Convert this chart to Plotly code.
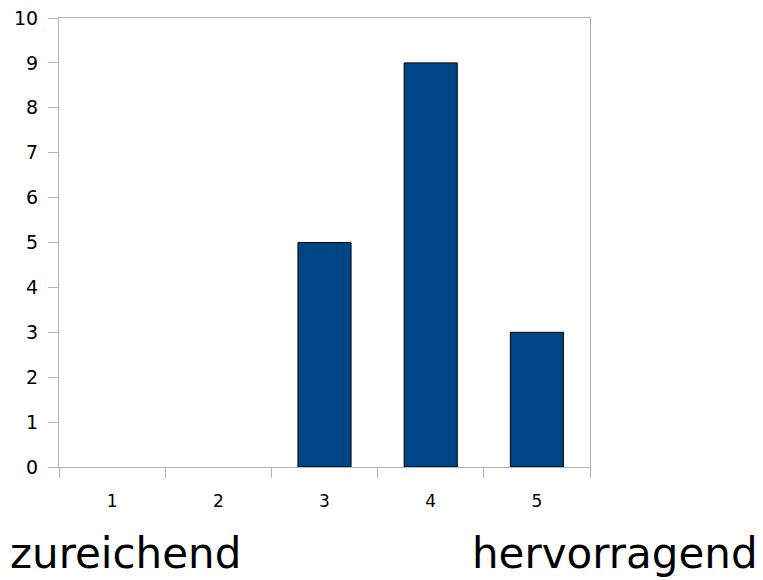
import plotly.graph_objects as go

# ratings and counts
categories = ["1", "2", "3", "4", "5"]
counts = [0, 0, 5, 9, 3]
left_label = "zureichend"
right_label = "hervorragend"

# the page body adds an 8px offset, so the figure is sized a bit smaller
fig_w, fig_h = 755, 572
plot_w, plot_h = 531, 449
ml, mt = 51, 10
mr = fig_w - ml - plot_w
mb = fig_h - mt - plot_h

fig = go.Figure()
fig.add_trace(go.Bar(
    x=categories, y=counts, width=0.5,
    marker=dict(color="#004586",
                line=dict(color="#000000", width=[1 if c > 0 else 0 for c in counts])),
    showlegend=False,
))

axis_col = "#b3b3b3"
fig.update_layout(
    width=fig_w, height=fig_h,
    margin=dict(l=ml, r=mr, t=mt, b=mb, autoexpand=False),
    paper_bgcolor="white", plot_bgcolor="white",
    font=dict(family="DejaVu Sans", color="#000000"),
    xaxis=dict(
        type="category", tickson="boundaries", ticks="outside", ticklen=10,
        tickcolor=axis_col, showline=True, linecolor=axis_col, mirror=True,
        showgrid=False, tickfont=dict(size=17), ticklabelstandoff=19,
    ),
    yaxis=dict(
        range=[0, 10], dtick=1, ticks="outside", ticklen=10, tickcolor=axis_col,
        showline=True, linecolor=axis_col, mirror=True, showgrid=False,
        zeroline=False, tickfont=dict(size=19), ticklabelstandoff=6,
        ticklabeloverflow="allow",
    ),
    annotations=[
        dict(text=left_label, xref="paper", yref="paper", x=-ml / plot_w, y=-mb / plot_h,
             xanchor="left", yanchor="bottom", showarrow=False,
             font=dict(size=42, family="DejaVu Sans")),
        dict(text=right_label, xref="paper", yref="paper", x=(752 - ml) / plot_w,
             y=-mb / plot_h,
             xanchor="right", yanchor="bottom", showarrow=False,
             font=dict(size=42, family="DejaVu Sans")),
    ],
)

fig.write_html("out.html")
